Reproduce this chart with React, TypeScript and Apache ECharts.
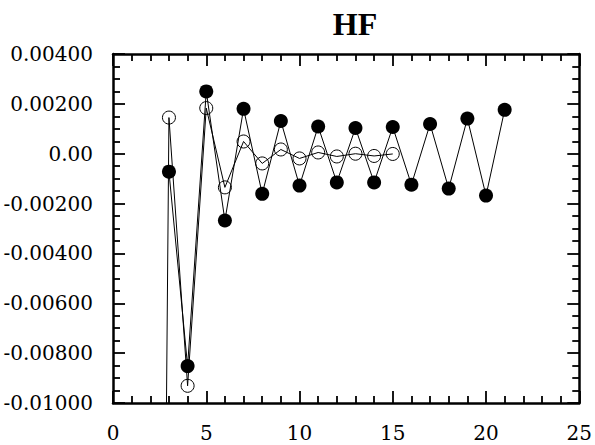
import React, { useEffect, useRef } from "react";
import * as echarts from "echarts";

const titleText = "HF";
const filledX = [3, 4, 5, 6, 7, 8, 9, 10, 11, 12, 13, 14, 15, 16, 17, 18, 19, 20, 21];
const filledY = [
  -0.00072, -0.00852, 0.0025, -0.00268, 0.0018, -0.00161, 0.00131, -0.00128, 0.00109,
  -0.00115, 0.00103, -0.00115, 0.00107, -0.00124, 0.00119, -0.0014, 0.00141, -0.00168, 0.00176,
];
const openX = [2, 3, 4, 5, 6, 7, 8, 9, 10, 11, 12, 13, 14, 15];
const openY = [
  -0.085, 0.00145, -0.00931, 0.00183, -0.00135, 0.00049, -0.00039, 0.00017, -0.00019,
  0.00005, -0.00011, 0.0, -0.00009, -0.00001,
];
const xMin = 0;
const xMax = 25;
const xStep = 5;
const yMin = -0.01;
const yMax = 0.004;
const yStep = 0.002;

const fmtY = (v: number) => (Math.abs(v) < 1e-12 ? "0.00" : v.toFixed(5));

export default function App() {
  const ref = useRef<HTMLDivElement>(null);
  useEffect(() => {
    if (!ref.current) return;
    const chart = echarts.init(ref.current, undefined, { renderer: "svg" });
    const font = "DejaVu Serif";
    const axisLine = { show: true, onZero: false, lineStyle: { color: "#000", width: 2.5 } };
    const tick = { show: true, inside: true, length: 12, lineStyle: { color: "#000", width: 1.8 } };
    const minor = { show: true, splitNumber: 5, length: 7, lineStyle: { color: "#000", width: 1.8 } };
    const minorY = { show: true, splitNumber: 4, length: 7, lineStyle: { color: "#000", width: 1.8 } };
    const labelStyle = { color: "#000", fontFamily: font, fontSize: 20 };
    chart.setOption({
      animation: false,
      backgroundColor: "#fff",
      title: {
        text: titleText,
        left: 350,
        top: 3,
        textAlign: "center",
        textStyle: { fontFamily: "Liberation Serif", fontWeight: "bold", fontSize: 32, color: "#000" },
      },
      grid: { left: 113, right: 13, top: 54, bottom: 42 },
      xAxis: [
        {
          type: "value", min: xMin, max: xMax, interval: xStep, position: "bottom",
          axisLine, axisTick: tick, minorTick: minor, splitLine: { show: false },
          axisLabel: { ...labelStyle, margin: 20 },
        },
        {
          type: "value", min: xMin, max: xMax, interval: xStep, position: "top",
          axisLine, axisTick: tick, minorTick: minor, splitLine: { show: false },
          axisLabel: { show: false },
        },
      ],
      yAxis: [
        {
          type: "value", min: yMin, max: yMax, interval: yStep, position: "left",
          axisLine, axisTick: tick, minorTick: minorY, splitLine: { show: false },
          axisLabel: { ...labelStyle, margin: 20, formatter: fmtY },
        },
        {
          type: "value", min: yMin, max: yMax, interval: yStep, position: "right",
          axisLine, axisTick: tick, minorTick: minorY, splitLine: { show: false },
          axisLabel: { show: false },
        },
      ],
      series: [
        {
          type: "line",
          data: openX.map((x, i) => [x, openY[i]]),
          symbol: "circle",
          symbolSize: 13,
          showSymbol: true,
          itemStyle: { color: "rgba(0,0,0,0)", borderColor: "#000", borderWidth: 1 },
          lineStyle: { color: "#000", width: 1 },
          clip: true,
          z: 2,
        },
        {
          type: "line",
          data: filledX.map((x, i) => [x, filledY[i]]),
          symbol: "circle",
          symbolSize: 14,
          itemStyle: { color: "#000" },
          lineStyle: { color: "#000", width: 1 },
          clip: true,
          z: 3,
        },
      ],
    });
    return () => chart.dispose();
  }, []);
  return (
    <div
      ref={ref}
      style={{ position: "absolute", left: 0, top: 0, width: 595, height: 445 }}
    />
  );
}
